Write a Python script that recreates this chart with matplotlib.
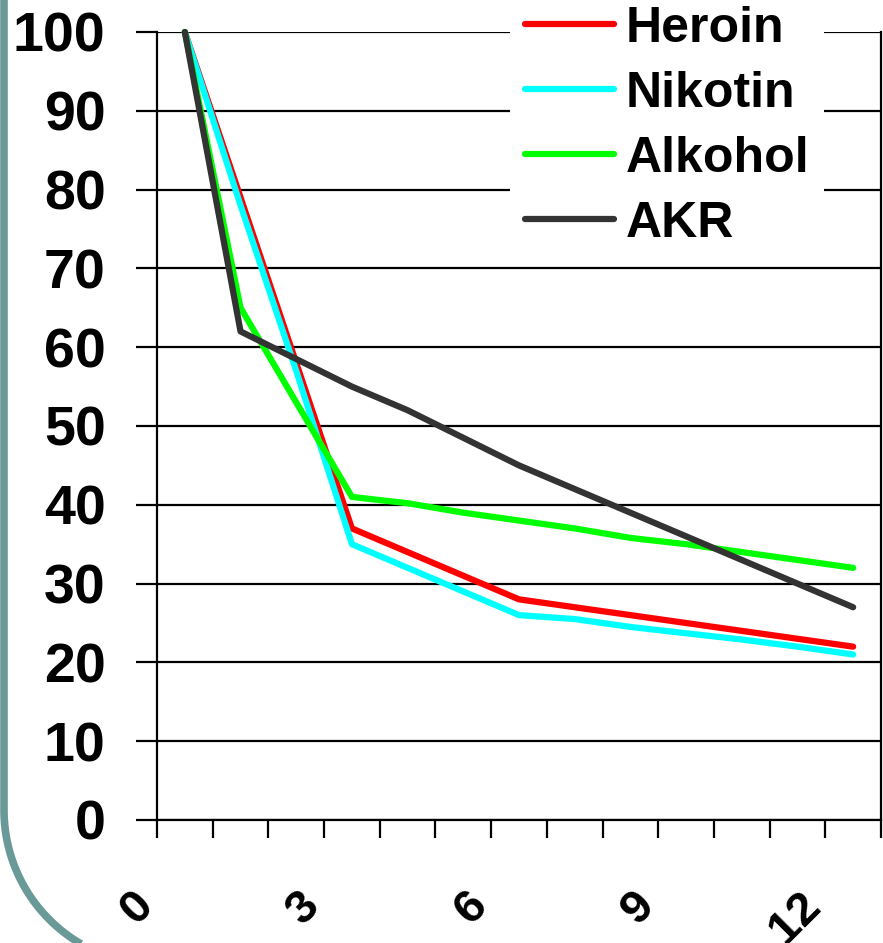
import numpy as np
import matplotlib
matplotlib.use("Agg")
import matplotlib.pyplot as plt
from matplotlib.transforms import ScaledTranslation

plt.rcParams['font.family'] = ['Liberation Sans', 'DejaVu Sans']
plt.rcParams['font.weight'] = 'bold'

months = list(range(13))
tick_months = [0, 3, 6, 9, 12]
y_ticks = list(range(0, 101, 10))

heroin = [100, 79, 58, 37, 34, 31, 28, 27, 26, 25, 24, 23, 22]
nikotin = [100, 78, 57, 35, 32, 29, 26, 25.5, 24.5, 23.7, 22.9, 22, 21]
alkohol = [100, 65, 53, 41, 40.2, 39, 38, 37, 35.8, 35, 34, 33, 32]
akr = [100, 62, 58.5, 55, 52, 48.5, 45, 42, 39, 36, 33, 30, 27]

series = [("Heroin", heroin, "#ff0000"),
          ("Nikotin", nikotin, "#00ffff"),
          ("Alkohol", alkohol, "#00ff00"),
          ("AKR", akr, "#333333")]

W, H = 883, 943
fig = plt.figure(figsize=(W / 100, H / 100), dpi=100)

# teal rounded frame on the left
bg = fig.add_axes([0, 0, 1, 1], zorder=-1)
bg.set_xlim(0, W)
bg.set_ylim(H, 0)
bg.axis("off")
r, cx, cy = 155.0, 159.0, 810.0
t = np.linspace(np.pi, np.pi / 2 + 0.5, 60)
fx = np.concatenate([[cx - r, cx - r], cx + r * np.cos(t)])
fy = np.concatenate([[-10, cy], cy + r * np.sin(t)])
bg.plot(fx, fy, color="#6a9a98", lw=5.5, solid_capstyle="butt")

ax = fig.add_axes([157 / W, (H - 820) / H, (881 - 157) / W, (820 - 32) / H])
for name, vals, col in series:
    ax.plot(months, vals, color=col, lw=4.5, label=name, clip_on=False,
            solid_capstyle="round", solid_joinstyle="round")

ax.set_xlim(-0.5, 12.5)
ax.set_ylim(0, 100)
ax.set_yticks(y_ticks)
ax.set_xticks(tick_months)
ax.set_xticks(np.arange(-0.5, 13), minor=True)
ax.set_xticklabels([str(m) for m in tick_months], rotation=45,
                   rotation_mode="anchor", ha="right", va="center")
ax.tick_params(axis="y", length=15, width=1.6, pad=22, labelsize=40)
ax.tick_params(axis="x", which="major", length=0, pad=57, labelsize=34)
ax.tick_params(axis="x", which="minor", length=13, width=1.6)
ax.grid(axis="y", color="black", lw=1.6)
ax.set_axisbelow(True)
for s in ["left", "bottom", "right"]:
    ax.spines[s].set_linewidth(1.6)
ax.spines["top"].set_visible(False)

offset = ScaledTranslation(-0.39, 0, fig.dpi_scale_trans)
for lab in ax.get_xticklabels():
    lab.set_transform(lab.get_transform() + offset)

leg = ax.legend(loc="upper left", bbox_to_anchor=(510 / W, 1 + 9 / H),
                bbox_transform=fig.transFigure, fontsize=36, frameon=True,
                facecolor="white", edgecolor="none", framealpha=1,
                handlelength=1.77, handletextpad=0.24, labelspacing=0.38,
                borderpad=0.3, borderaxespad=0)
for line in leg.get_lines():
    line.set_linewidth(4.5)
    line.set_solid_capstyle("round")

fig.savefig("out.png", dpi=100)
